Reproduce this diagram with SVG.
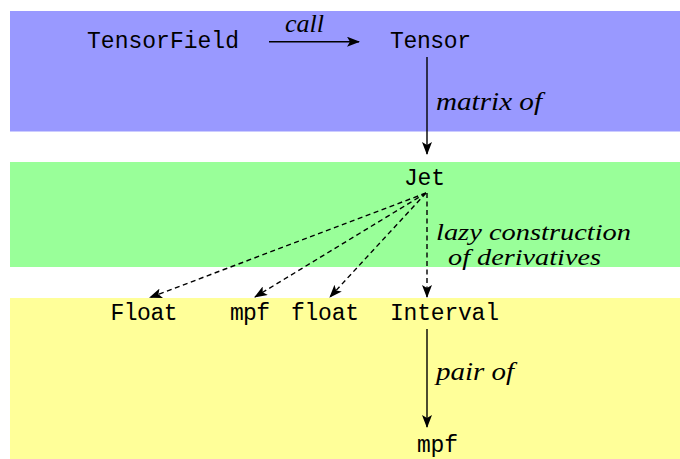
<svg xmlns="http://www.w3.org/2000/svg" width="680" height="459" viewBox="0 0 680 459">
<style>
.tt{font-family:"Liberation Mono","DejaVu Sans Mono",monospace;font-size:23px;fill:#000}
.lbl{font-family:"Liberation Serif","DejaVu Serif",serif;font-style:italic;font-size:26px;fill:#000}
.sm{font-size:24px}
.c{stroke:#000;stroke-width:1.4;fill:none}
.d{stroke-dasharray:5,3.5}
</style>
<defs>
<marker id="ah" viewBox="0 0 13 10" refX="12" refY="5" markerWidth="13" markerHeight="10" markerUnits="userSpaceOnUse" orient="auto">
<path d="M0,0 L13,5 L0,10 L3,5 Z" fill="#000"/>
</marker>
</defs>
<g id="bands">
<rect x="10" y="11" width="670" height="120.5" fill="#9999FF"/>
<rect x="10" y="162" width="670" height="105" fill="#99FF99"/>
<rect x="10" y="298" width="670" height="161" fill="#FFFF99"/>
</g>
<g id="connectors">
<line class="c" x1="269" y1="41.7" x2="359" y2="41.7" marker-end="url(#ah)"/>
<line class="c" x1="427" y1="57" x2="427" y2="154" marker-end="url(#ah)"/>
<line class="c d" x1="426" y1="193" x2="150" y2="297.5" marker-end="url(#ah)"/>
<line class="c d" x1="426" y1="193" x2="255" y2="297" marker-end="url(#ah)"/>
<line class="c d" x1="426" y1="193" x2="330" y2="297" marker-end="url(#ah)"/>
<line class="c d" x1="427" y1="193" x2="427" y2="297" marker-end="url(#ah)"/>
<line class="c" x1="427" y1="329" x2="427" y2="427" marker-end="url(#ah)"/>
<text class="lbl" x="285" y="32" textLength="39" lengthAdjust="spacingAndGlyphs">call</text>
<text class="lbl" x="436" y="110" textLength="106" lengthAdjust="spacingAndGlyphs">matrix of</text>
<text class="lbl sm" x="436" y="240" textLength="195" lengthAdjust="spacingAndGlyphs">lazy construction</text>
<text class="lbl sm" x="448" y="265" textLength="153" lengthAdjust="spacingAndGlyphs">of derivatives</text>
<text class="lbl" x="436" y="380" textLength="78" lengthAdjust="spacingAndGlyphs">pair of</text>
</g>
<g id="TensorField"><text class="tt" x="87" y="48" textLength="152">TensorField</text></g>
<g id="Tensor"><text class="tt" x="390" y="48" textLength="81">Tensor</text></g>
<g id="Jet"><text class="tt" x="404" y="185" textLength="41">Jet</text></g>
<g id="Float"><text class="tt" x="110.5" y="320" textLength="67">Float</text></g>
<g id="mpf1"><text class="tt" x="230" y="320" textLength="40">mpf</text></g>
<g id="float"><text class="tt" x="291" y="320" textLength="68">float</text></g>
<g id="Interval"><text class="tt" x="390" y="320" textLength="109">Interval</text></g>
<g id="mpf2"><text class="tt" x="417" y="452" textLength="41">mpf</text></g>
</svg>
